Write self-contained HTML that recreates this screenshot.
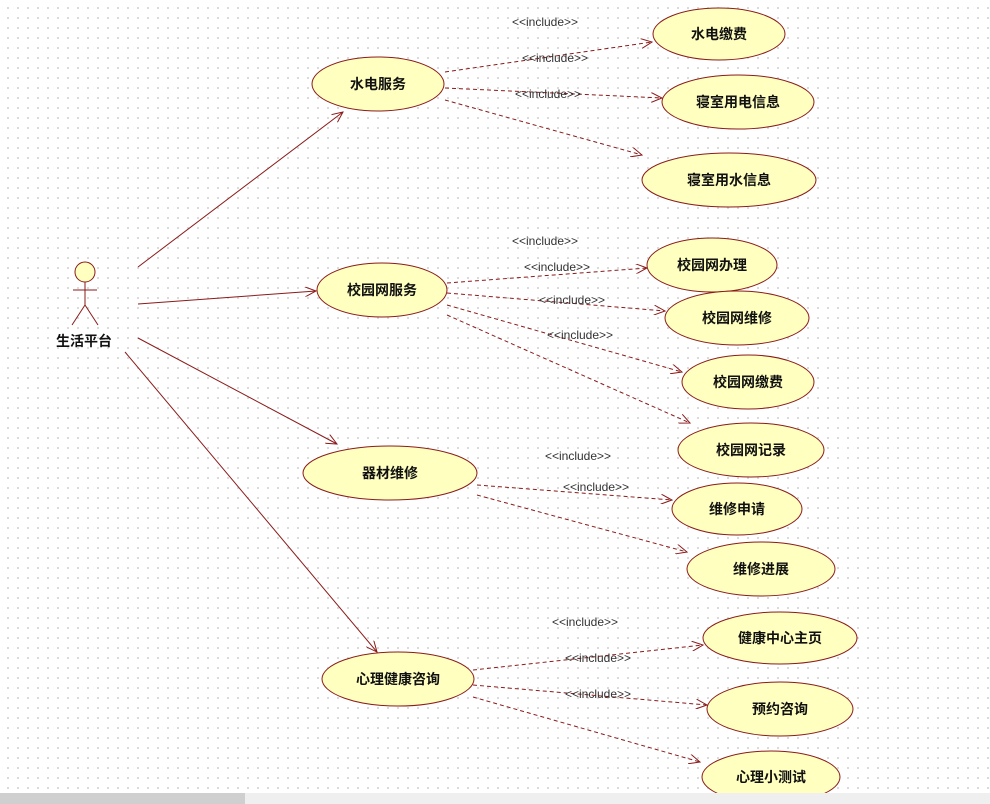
<!DOCTYPE html>
<html><head><meta charset="utf-8"><style>
html,body{margin:0;padding:0;width:990px;height:804px;overflow:hidden;background:#fff;}
#bg{position:absolute;left:0;top:0;width:990px;height:793px;background-image:radial-gradient(circle,#cfcfcf 0.8px,transparent 1.1px);background-size:10px 10px;background-position:3px 3px;}
svg{position:absolute;left:0;top:0;}
.bar1{position:absolute;left:0;top:793px;width:245px;height:11px;background:#cfcfcf;}
.bar2{position:absolute;left:245px;top:793px;width:745px;height:11px;background:#efefef;}
</style></head><body>
<div id="bg"></div>
<svg width="990" height="804" font-family="'Liberation Sans','Noto Sans CJK SC',sans-serif">
<defs>
<marker id="a" markerWidth="12" markerHeight="10" refX="11" refY="5" orient="auto" markerUnits="userSpaceOnUse"><path d="M0,0 L11,5 L0,10" fill="none" stroke="#8b1a1a" stroke-width="1"/></marker>
</defs>
<g stroke="#8b1a1a" stroke-width="1" fill="none" marker-end="url(#a)">
<line x1="138" y1="267" x2="343" y2="112"/>
<line x1="138" y1="304" x2="316" y2="291"/>
<line x1="138" y1="338" x2="337" y2="444"/>
<line x1="125" y1="352" x2="377" y2="652"/>
</g>
<g stroke="#8b1a1a" stroke-width="1" fill="none" stroke-dasharray="4,3" marker-end="url(#a)">
<line x1="445" y1="72" x2="652" y2="42"/>
<line x1="445" y1="88" x2="662" y2="98"/>
<line x1="445" y1="100" x2="642" y2="155"/>
<line x1="447" y1="283" x2="647" y2="268"/>
<line x1="447" y1="293" x2="665" y2="311"/>
<line x1="447" y1="305" x2="682" y2="372"/>
<line x1="447" y1="315" x2="690" y2="423"/>
<line x1="477" y1="485" x2="672" y2="500"/>
<line x1="477" y1="495" x2="687" y2="552"/>
<line x1="473" y1="670" x2="703" y2="645"/>
<line x1="473" y1="685" x2="707" y2="705"/>
<line x1="473" y1="697" x2="700" y2="762"/>
</g>
<g font-size="12" fill="#333" text-anchor="middle">
<text x="545" y="26">&lt;&lt;include&gt;&gt;</text>
<text x="555" y="62">&lt;&lt;include&gt;&gt;</text>
<text x="548" y="98">&lt;&lt;include&gt;&gt;</text>
<text x="545" y="245">&lt;&lt;include&gt;&gt;</text>
<text x="557" y="271">&lt;&lt;include&gt;&gt;</text>
<text x="572" y="304">&lt;&lt;include&gt;&gt;</text>
<text x="580" y="339">&lt;&lt;include&gt;&gt;</text>
<text x="578" y="460">&lt;&lt;include&gt;&gt;</text>
<text x="596" y="491">&lt;&lt;include&gt;&gt;</text>
<text x="585" y="626">&lt;&lt;include&gt;&gt;</text>
<text x="598" y="662">&lt;&lt;include&gt;&gt;</text>
<text x="598" y="698">&lt;&lt;include&gt;&gt;</text>
</g>
<g fill="#ffffc0" stroke="#8b1a1a" stroke-width="1">
<ellipse cx="378" cy="84" rx="66" ry="27"/>
<ellipse cx="382" cy="290" rx="65" ry="27"/>
<ellipse cx="390" cy="473" rx="87" ry="27"/>
<ellipse cx="398" cy="679" rx="76" ry="27"/>
<ellipse cx="719" cy="34" rx="66" ry="26"/>
<ellipse cx="738" cy="102" rx="76" ry="27"/>
<ellipse cx="729" cy="180" rx="87" ry="27"/>
<ellipse cx="712" cy="265" rx="65" ry="27"/>
<ellipse cx="737" cy="318" rx="72" ry="27"/>
<ellipse cx="748" cy="382" rx="66" ry="27"/>
<ellipse cx="751" cy="450" rx="73" ry="27"/>
<ellipse cx="737" cy="509" rx="65" ry="26"/>
<ellipse cx="761" cy="569" rx="74" ry="27"/>
<ellipse cx="780" cy="638" rx="77" ry="26"/>
<ellipse cx="780" cy="709" rx="73" ry="27"/>
<ellipse cx="771" cy="777" rx="69" ry="26"/>
</g>
<g font-size="14" font-weight="bold" fill="#111" text-anchor="middle">
<text x="378" y="89">水电服务</text>
<text x="382" y="295">校园网服务</text>
<text x="390" y="478">器材维修</text>
<text x="398" y="684">心理健康咨询</text>
<text x="719" y="39">水电缴费</text>
<text x="738" y="107">寝室用电信息</text>
<text x="729" y="185">寝室用水信息</text>
<text x="712" y="270">校园网办理</text>
<text x="737" y="323">校园网维修</text>
<text x="748" y="387">校园网缴费</text>
<text x="751" y="455">校园网记录</text>
<text x="737" y="514">维修申请</text>
<text x="761" y="574">维修进展</text>
<text x="780" y="643">健康中心主页</text>
<text x="780" y="714">预约咨询</text>
<text x="771" y="782">心理小测试</text>
<text x="84" y="346">生活平台</text>
</g>
<g stroke="#8b1a1a" stroke-width="1">
<circle cx="85" cy="272" r="10" fill="#ffffc0"/>
<line x1="85" y1="282" x2="85" y2="305"/>
<line x1="73" y1="290" x2="97" y2="290"/>
<line x1="85" y1="305" x2="72" y2="325"/>
<line x1="85" y1="305" x2="98" y2="325"/>
</g>
</svg>
<div class="bar1"></div><div class="bar2"></div>
</body></html>
